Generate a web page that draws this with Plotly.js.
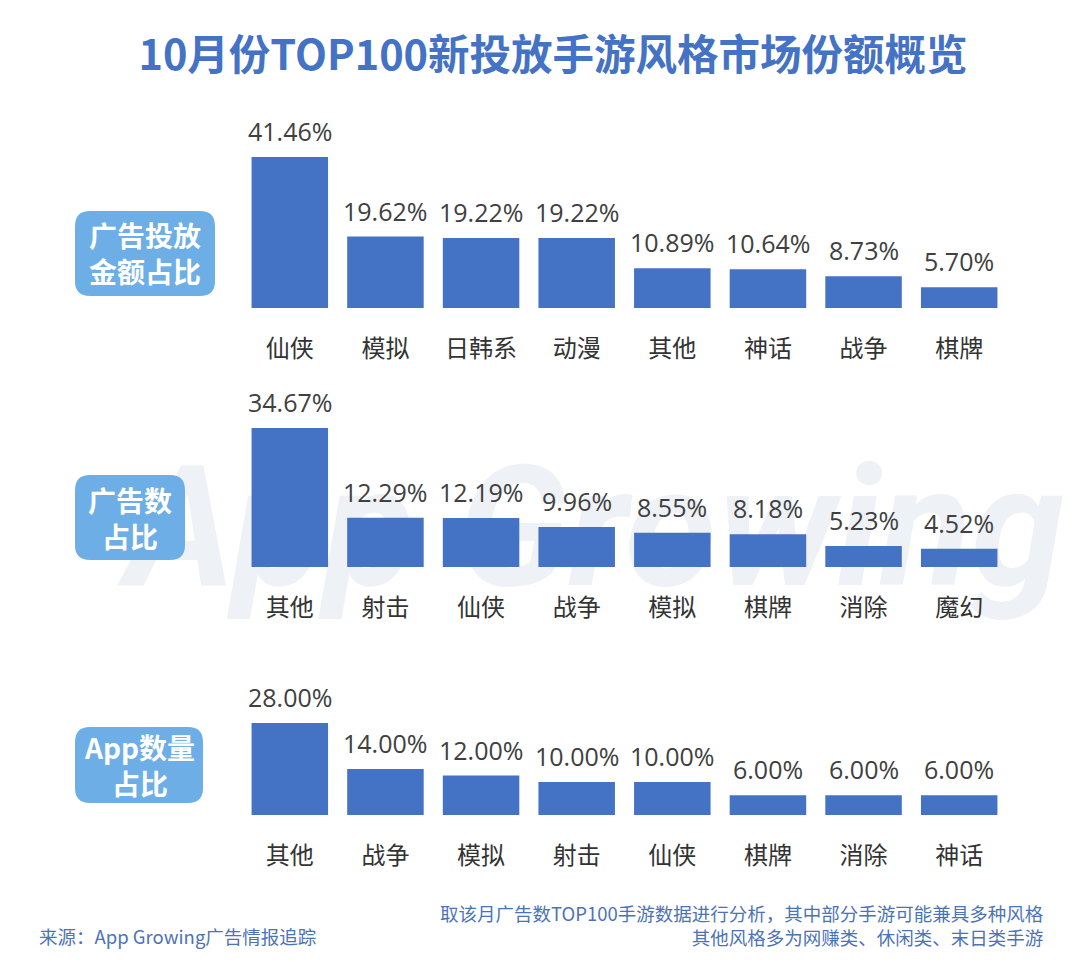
<!DOCTYPE html>
<html>
<head>
<meta charset="utf-8">
<script src="https://cdn.plot.ly/plotly-3.0.1.min.js"></script>
<style>html,body{margin:0;padding:0;background:#fff;}#chart{width:1080px;height:962px;}</style>
</head>
<body>
<div id="chart"></div>
<script>
// ---- data ----
const titleText = '10月份TOP100新投放手游风格市场份额概览';
const cats1 = ['仙侠','模拟','日韩系','动漫','其他','神话','战争','棋牌'];
const vals1 = [41.46,19.62,19.22,19.22,10.89,10.64,8.73,5.70];
const cats2 = ['其他','射击','仙侠','战争','模拟','棋牌','消除','魔幻'];
const vals2 = [34.67,12.29,12.19,9.96,8.55,8.18,5.23,4.52];
const cats3 = ['其他','战争','模拟','射击','仙侠','棋牌','消除','神话'];
const vals3 = [28.00,14.00,12.00,10.00,10.00,6.00,6.00,6.00];
const panelLabels = ['广告投放<br>金额占比','广告数<br>占比','App数量<br>占比'];
const sourceText = '来源：App Growing广告情报追踪';
const noteText = '取该月广告数TOP100手游数据进行分析，其中部分手游可能兼具多种风格<br>其他风格多为网赚类、休闲类、末日类手游';
const watermarkText = 'App Growing';

// ---- layout helpers ----
const W = 1080, H = 962;
const fx = px => px / W;
const fy = py => 1 - py / H;
const BAR = '#4472C4';
const CJK = 'Noto Sans CJK SC, Noto Sans, sans-serif';
const NUM = 'Open Sans, Noto Sans CJK SC, sans-serif';

const panels = [
  {cats: cats1, vals: vals1, bottom: 308, top: 130, scale: 3.64, box: [75, 211, 215, 296]},
  {cats: cats2, vals: vals2, bottom: 567, top: 400, scale: 4.01, box: [75, 475, 185, 560]},
  {cats: cats3, vals: vals3, bottom: 815, top: 690, scale: 3.29, box: [75, 727, 203, 803]}
];

function roundRect(x0, y0, x1, y1, r) {
  const X = fx, Y = fy;
  return 'M' + X(x0 + r) + ',' + Y(y0) +
    ' L' + X(x1 - r) + ',' + Y(y0) +
    ' Q' + X(x1) + ',' + Y(y0) + ' ' + X(x1) + ',' + Y(y0 + r) +
    ' L' + X(x1) + ',' + Y(y1 - r) +
    ' Q' + X(x1) + ',' + Y(y1) + ' ' + X(x1 - r) + ',' + Y(y1) +
    ' L' + X(x0 + r) + ',' + Y(y1) +
    ' Q' + X(x0) + ',' + Y(y1) + ' ' + X(x0) + ',' + Y(y1 - r) +
    ' L' + X(x0) + ',' + Y(y0 + r) +
    ' Q' + X(x0) + ',' + Y(y0) + ' ' + X(x0 + r) + ',' + Y(y0) + ' Z';
}

const traces = [];
const annotations = [];
const shapes = [];
const layout = {
  width: W, height: H, autosize: false,
  margin: {l: 0, r: 0, t: 0, b: 0},
  paper_bgcolor: '#ffffff',
  plot_bgcolor: 'rgba(0,0,0,0)',
  showlegend: false,
  bargap: 0.2,
  title: {
    text: titleText,
    x: fx(553), xanchor: 'center',
    y: fy(55), yanchor: 'middle',
    font: {family: CJK, size: 41.5, color: '#4472C4', weight: 'bold'}
  }
};

// watermark (below the bars)
shapes.push({
  type: 'rect', xref: 'paper', yref: 'paper', layer: 'below',
  x0: fx(140), x1: fx(1050), y0: fy(650), y1: fy(380),
  line: {width: 0}, fillcolor: 'rgba(0,0,0,0)',
  label: {
    text: watermarkText, textposition: 'middle center',
    font: {family: 'Roboto, sans-serif', size: 168, color: '#eef1f6', weight: 'bold', style: 'italic'}
  }
});

panels.forEach((p, i) => {
  const n = i + 1;
  const xa = 'x' + (n === 1 ? '' : n), ya = 'y' + (n === 1 ? '' : n);
  traces.push({
    type: 'bar', x: p.cats, y: p.vals, xaxis: xa, yaxis: ya,
    marker: {color: BAR, line: {width: 0}},
    hoverinfo: 'x+y'
  });
  const rangeMax = (p.bottom - p.top) / p.scale;
  layout['xaxis' + (n === 1 ? '' : n)] = {
    domain: [fx(242), fx(1007)],
    anchor: ya,
    type: 'category', categoryorder: 'array', categoryarray: p.cats,
    range: [-0.5, p.cats.length - 0.5],
    showgrid: false, zeroline: false, showline: false, ticks: '',
    ticklabelstandoff: 24,
    tickfont: {family: CJK, size: 24, color: '#333333'},
    fixedrange: true
  };
  layout['yaxis' + (n === 1 ? '' : n)] = {
    domain: [fy(p.bottom), fy(p.top)],
    anchor: xa,
    range: [0, rangeMax],
    visible: false, showgrid: false, zeroline: false,
    fixedrange: true
  };
  p.cats.forEach((c, k) => {
    annotations.push({
      xref: xa, yref: ya, x: c, y: p.vals[k],
      text: p.vals[k].toFixed(2) + '%',
      showarrow: false, xanchor: 'center', yanchor: 'bottom', yshift: 7,
      font: {family: NUM, size: 25, color: '#404040'}
    });
  });
  const b = p.box;
  shapes.push({
    type: 'path', xref: 'paper', yref: 'paper', layer: 'below',
    path: roundRect(b[0], b[1], b[2], b[3], 15),
    fillcolor: '#6DAEE6', line: {width: 0}
  });
  annotations.push({
    xref: 'paper', yref: 'paper', x: fx((b[0] + b[2]) / 2), y: fy((b[1] + b[3]) / 2),
    xanchor: 'center', yanchor: 'middle', showarrow: false, align: 'center',
    text: panelLabels[i],
    font: {family: CJK, size: 28, color: '#ffffff', weight: 'bold'}
  });
});

annotations.push({
  xref: 'paper', yref: 'paper', x: fx(37), y: fy(936),
  xanchor: 'left', yanchor: 'middle', showarrow: false,
  text: sourceText,
  font: {family: CJK, size: 18.5, color: '#4C74B5'}
});
annotations.push({
  xref: 'paper', yref: 'paper', x: fx(1046), y: fy(925),
  xanchor: 'right', yanchor: 'middle', showarrow: false, align: 'right',
  text: noteText,
  font: {family: CJK, size: 18.5, color: '#4C74B5'}
});

layout.annotations = annotations;
layout.shapes = shapes;

Plotly.newPlot('chart', traces, layout, {displayModeBar: false, staticPlot: true});
</script>
</body>
</html>
